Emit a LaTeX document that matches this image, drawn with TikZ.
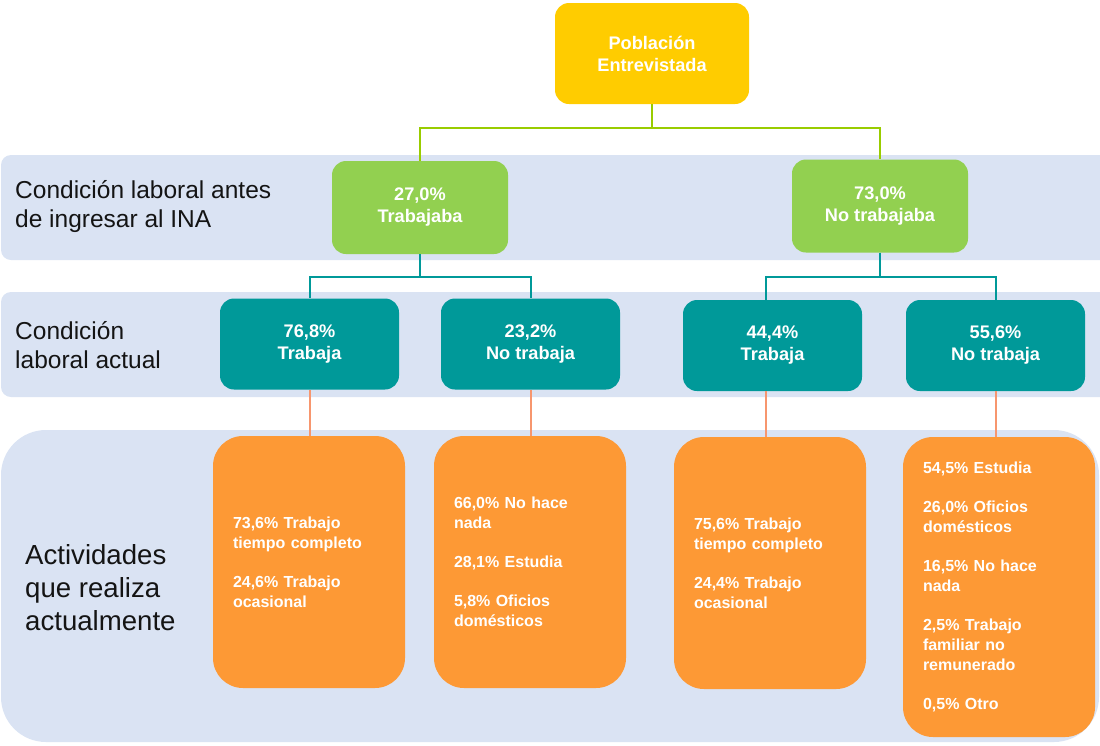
\documentclass[tikz,border=0pt]{standalone}
\usepackage{fontspec}
\setmainfont{Liberation Sans}
\usetikzlibrary{calc}
\definecolor{bandc}{RGB}{218,227,243}
\definecolor{yellowc}{RGB}{255,204,0}
\definecolor{greenc}{RGB}{146,208,80}
\definecolor{tealc}{RGB}{0,153,153}
\definecolor{orangec}{RGB}{253,153,53}
\definecolor{limec}{RGB}{153,204,0}
\definecolor{salmonc}{RGB}{247,150,110}
\definecolor{labelc}{RGB}{20,20,20}
\tikzset{
  boxbase/.style={rectangle, inner sep=0pt, text=white, align=center,
    font=\fontsize{18.2}{22}\selectfont\bfseries},
  ybox/.style={boxbase, fill=yellowc, rounded corners=14pt, minimum width=194pt, minimum height=101pt},
  gbox/.style={boxbase, fill=greenc, rounded corners=14pt, minimum width=176pt, minimum height=93pt},
  tbox/.style={boxbase, fill=tealc, rounded corners=14pt, minimum width=179pt, minimum height=91pt},
  obox/.style={rectangle, fill=orangec, rounded corners=30pt, text=white,
    font=\fontsize{16}{20}\selectfont\bfseries, align=left,
    minimum width=192pt, inner xsep=20pt, inner ysep=0pt, text width=152pt},
  band/.style={fill=bandc},
  rowlabel/.style={anchor=west, align=left, text=labelc, inner sep=0pt},
  glink/.style={draw=limec, line width=2pt},
  tlink/.style={draw=tealc, line width=2pt},
  olink/.style={draw=salmonc, line width=2pt},
}
\begin{document}
\begin{tikzpicture}[x=1pt,y=-1pt]
\useasboundingbox (0,0) rectangle (1100,745);
% bands
\fill[band, rounded corners=10pt] (1,155) rectangle (1110,260);
\fill[band, rounded corners=10pt] (1,292) rectangle (1110,397);
\fill[band, rounded corners=45pt] (1,430) rectangle (1099,742);
% row labels
\node[rowlabel, font=\fontsize{24.5}{29}\selectfont] (l1) at (15,207) {Condición laboral antes\\de ingresar al INA};
\node[rowlabel, font=\fontsize{24.5}{29}\selectfont] (l2) at (15,345) {Condición\\laboral actual};
\node[rowlabel, font=\fontsize{27.6}{33}\selectfont] (l3) at (25,588) {Actividades\\que realiza\\actualmente};
% top
\node[ybox] (top) at (652,53.5) {Población\\Entrevistada};
% green
\node[gbox] (g1) at (420,207.5) {27,0\%\\Trabajaba};
\node[gbox] (g2) at (880,206) {73,0\%\\No trabajaba};
% teal
\node[tbox] (t1) at (309.5,344) {76,8\%\\Trabaja};
\node[tbox] (t2) at (530.5,344) {23,2\%\\No trabaja};
\node[tbox] (t3) at (772.5,345.5) {44,4\%\\Trabaja};
\node[tbox] (t4) at (995.5,345.5) {55,6\%\\No trabaja};
% orange
\node[obox, minimum height=252pt] (o1) at (309,562) {73,6\% Trabajo\\tiempo completo\\[19pt]24,6\% Trabajo\\ocasional};
\node[obox, minimum height=252pt] (o2) at (530,562) {66,0\% No hace\\nada\\[19pt]28,1\% Estudia\\[19pt]5,8\% Oficios\\domésticos};
\node[obox, minimum height=252pt] (o3) at (770,563) {75,6\% Trabajo\\tiempo completo\\[19pt]24,4\% Trabajo\\ocasional};
\node[obox, minimum height=300pt] (o4) at (999,587) {54,5\% Estudia\\[19pt]26,0\% Oficios\\domésticos\\[19pt]16,5\% No hace\\nada\\[19pt]2,5\% Trabajo\\familiar no\\remunerado\\[19pt]0,5\% Otro};
% connectors
\coordinate (gj) at ($(top.south)+(0,24)$);
\coordinate (t3n) at ($(t3.north)+(-7,0)$);
\coordinate (t3s) at ($(t3.south)+(-7,0)$);
\draw[glink] (top.south) -- (gj) -| (g1.north);
\draw[glink] (gj) -| (g2.north);
\draw[tlink] (g1.south) -- ++(0,23) -| (t1.north);
\draw[tlink] (g1.south) -- ++(0,23) -| (t2.north);
\draw[tlink] (g2.south) -- ++(0,24) -| (t3n);
\draw[tlink] (g2.south) -- ++(0,24) -| (t4.north);
\draw[olink] (t1.south) -- (t1.south |- o1.north);
\draw[olink] (t2.south) -- (t2.south |- o2.north);
\draw[olink] (t3s) -- (t3s |- o3.north);
\draw[olink] (t4.south) -- (t4.south |- o4.north);
\end{tikzpicture}
\end{document}
